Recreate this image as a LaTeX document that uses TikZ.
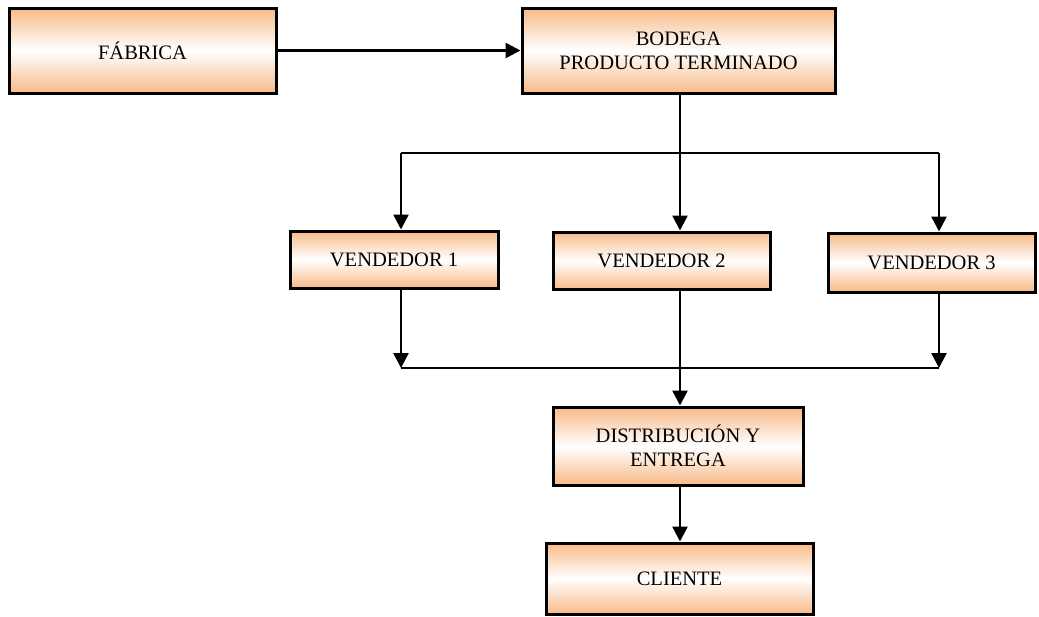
\documentclass[tikz,border=0pt]{standalone}
\usepackage{fontspec}
\setmainfont{Liberation Serif}
\usetikzlibrary{arrows.meta}
\definecolor{boxorange}{RGB}{248,186,136}
\tikzset{
  box/.style={draw=black, line width=3pt, rectangle, inner sep=0pt,
    top color=boxorange, bottom color=boxorange, middle color=white,
    align=center, font=\fontsize{20.5}{24}\selectfont},
  link/.style={line width=2.6pt, draw=black},
  arr/.style={link, -{Triangle[length=15pt,width=15pt]}}
}
\begin{document}
\begin{tikzpicture}[x=1pt,y=-1pt]
\useasboundingbox (0,0) rectangle (1039,616);
% boxes
\node[box, minimum width=267pt, minimum height=85pt] (fab) at (142.5,50.5) {FÁBRICA};
\node[box, minimum width=313pt, minimum height=85pt] (bod) at (678.5,50.5) {BODEGA\\PRODUCTO TERMINADO};
\node[box, minimum width=208pt, minimum height=57pt] (v1) at (394,259.5) {VENDEDOR 1};
\node[box, minimum width=217pt, minimum height=57pt] (v2) at (661.5,260.5) {VENDEDOR 2};
\node[box, minimum width=207pt, minimum height=59pt] (v3) at (931.5,262.5) {VENDEDOR 3};
\node[box, minimum width=250pt, minimum height=78pt] (dis) at (678,446) {DISTRIBUCIÓN Y\\ENTREGA};
\node[box, minimum width=267pt, minimum height=71pt] (cli) at (679.5,578.5) {CLIENTE};
% branching points
\coordinate (split) at (680,153);
\coordinate (sl) at (401,153);
\coordinate (sr) at (939,153);
\coordinate (jl) at (401,368);
\coordinate (jr) at (939,368);
% connectors
\draw[arr] (fab.east) -- (bod.west);
\draw[link] (split |- bod.south) -- (split);
\draw[link] (sl) -- (sr);
\draw[arr] (sl) -- (sl |- v1.north);
\draw[arr] (split) -- (split |- v2.north);
\draw[arr] (sr) -- (sr |- v3.north);
\draw[arr] (jl |- v1.south) -- (jl);
\draw[arr] (jr |- v3.south) -- (jr);
\draw[link] (jl) -- (jr);
\draw[arr] (split |- v2.south) -- (split |- dis.north);
\draw[arr] (split |- dis.south) -- (split |- cli.north);
\end{tikzpicture}
\end{document}
